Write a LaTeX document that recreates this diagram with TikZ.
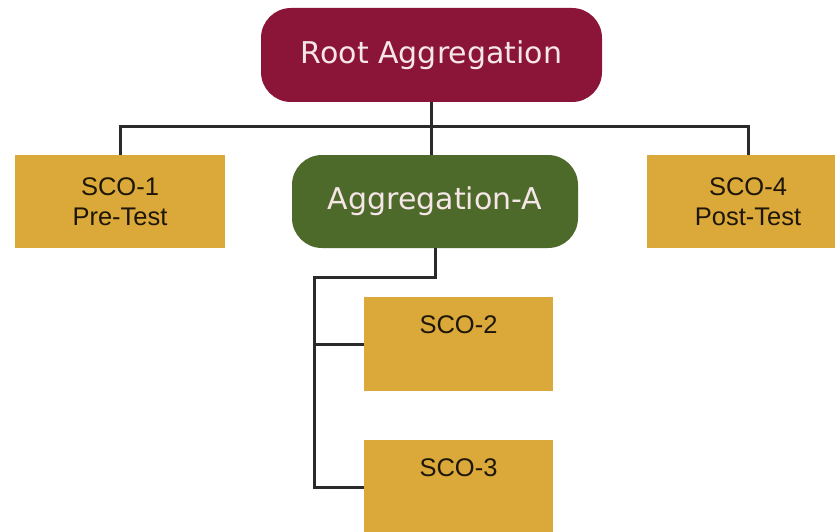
\documentclass[tikz,border=0pt]{standalone}
\usepackage{fontspec}
\setmainfont{Liberation Sans}
\newfontfamily\aggfont{DejaVu Sans}
\usepackage{xcolor}
\usepackage{tikz}
\definecolor{maroon}{HTML}{8A1538}
\definecolor{olive}{HTML}{4E6A2B}
\definecolor{gold}{HTML}{DAA93A}
\definecolor{link}{HTML}{2A2A2A}
\definecolor{pale}{HTML}{F6E6E8}
\definecolor{ink}{HTML}{1E1608}

\begin{document}
\begin{tikzpicture}[x=1pt,y=-1pt,
    sco/.style={fill=gold,inner sep=0pt,align=center,text=ink,
      font=\fontsize{25.5}{30}\selectfont},
    aggbox/.style={rounded corners=30pt,inner sep=0pt,text=pale,
      font=\aggfont\fontsize{30}{34}\selectfont},
    wire/.style={draw=link,line width=3pt}]
  \path[use as bounding box,fill=white] (0,0) rectangle (835,532);

  % top level
  \node[aggbox,fill=maroon,minimum width=341pt,minimum height=94pt] (root) at (431.5,55) {Root Aggregation};
  \node[sco,minimum width=210pt,minimum height=93pt] (sco1) at (120,201.5) {SCO-1\\Pre-Test};
  \node[aggbox,fill=olive,minimum width=286pt,minimum height=93pt] (agg) at (435,201.5) {Aggregation-A};
  \node[sco,minimum width=202pt,minimum height=93pt] (sco4) at (748,201.5) {SCO-4\\Post-Test};

  % children of Aggregation-A
  \node[sco,minimum width=189pt,minimum height=94pt] (sco2) at (458.5,344) {SCO-2\\\strut};
  \node[sco,minimum width=189pt,minimum height=94pt] (sco3) at (458.5,487) {SCO-3\\\strut};

  \coordinate (bus) at (120,127);
  \coordinate (spine) at (314,277);

  \draw[wire] (root.south) -- (root.south |- agg.north);
  \draw[wire] (sco1.north) -- (bus) -- (bus -| sco4.north) -- (sco4.north);
  \draw[wire] (agg.south) |- (spine) |- (sco3.west);
  \draw[wire] (spine |- sco2.west) -- (sco2.west);
\end{tikzpicture}
\end{document}
